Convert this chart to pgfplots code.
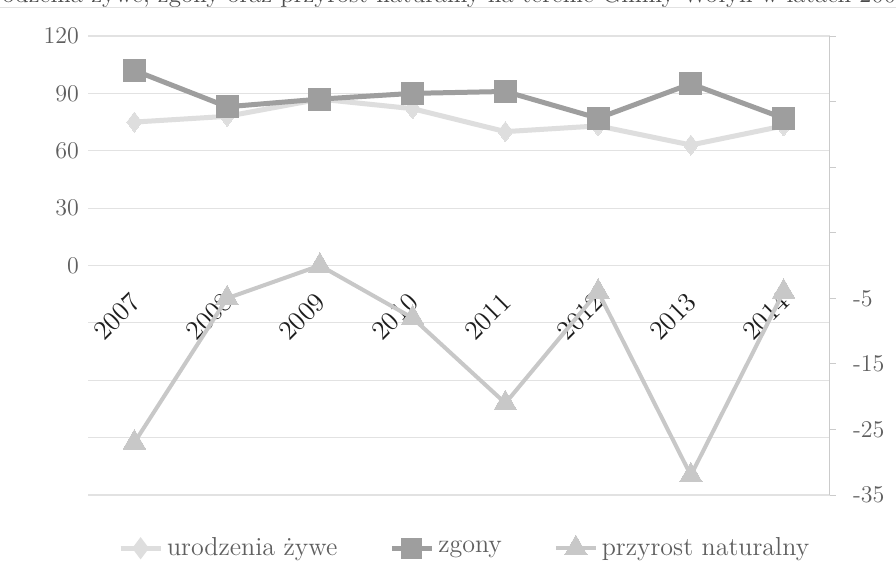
\documentclass[border=0pt]{standalone}
\usepackage{fontspec}
\usepackage{pgfplots}
\pgfplotsset{compat=1.18}
\definecolor{urod}{RGB}{222,222,222}
\definecolor{zgon}{RGB}{158,158,158}
\definecolor{przy}{RGB}{200,200,200}
\definecolor{gridc}{RGB}{226,226,226}
\definecolor{labc}{RGB}{95,95,95}
\definecolor{yearc}{RGB}{30,30,30}
\newcommand{\tf}{\fontsize{12}{14}\selectfont}
\begin{document}
\begin{tikzpicture}
\clip (0,0) rectangle (448pt,289.5pt);
\fill[white] (0,0) rectangle (448pt,289.5pt);
\node[anchor=base west, inner sep=0pt, text=labc!80!black, font=\fontsize{12.5}{14}\selectfont] at (-13pt,288pt)
  {Urodzenia żywe, zgony oraz przyrost naturalny na terenie Gminy Wołyń w latach 2007--2014};
\draw[gridc, line width=0.5pt] (0,285.5pt) -- (448pt,285.5pt);
\begin{axis}[
  at={(44pt,42pt)}, anchor=south west,
  scale only axis, width=371pt, height=229.5pt,
  xmin=-0.5, xmax=7.5, ymin=-120, ymax=120,
  axis line style={draw=none},
  ytick={-120,-90,...,120},
  yticklabels={,,,,0,30,60,90,120},
  ymajorgrids, grid style={gridc, line width=0.6pt},
  major tick length=0pt,
  xtick={0,1,2,3,4,5,6,7},
  xticklabels={2007,2008,2009,2010,2011,2012,2013,2014},
  xticklabel style={font=\fontsize{13.5}{15}\selectfont, text=yearc, yshift=101pt, xshift=3pt, rotate=45, anchor=east},
  yticklabel style={font=\tf, text=labc, xshift=-1pt},
  clip=false,
]
\addplot[urod, line width=2.5pt, line join=round, mark=diamond*, mark size=5pt, mark options={fill=urod, draw=urod, line width=0pt}]
  coordinates {(0,75) (1,78) (2,87) (3,82) (4,70) (5,73) (6,63) (7,73)};
\addplot[zgon, line width=2.5pt, line join=round, mark=square*, mark size=5.5pt, mark options={fill=zgon, draw=zgon, line width=0pt}]
  coordinates {(0,102) (1,83) (2,87) (3,90) (4,91) (5,77) (6,95) (7,77)};
\end{axis}
\begin{axis}[
  at={(44pt,42pt)}, anchor=south west,
  scale only axis, width=371pt, height=229.5pt,
  xmin=-0.5, xmax=7.5, ymin=-35, ymax=35,
  axis x line=none,
  axis y line*=right,
  y axis line style={draw=gridc!90!black, line width=0.5pt},
  ytick={-35,-25,...,35},
  yticklabels={-35,-25,-15,-5,,,,},
  tick align=outside, major tick length=3pt,
  ytick style={draw=gridc!90!black, line width=0.5pt},
  yticklabel style={font=\tf, text=labc, xshift=5pt},
  clip=false,
  legend style={at={(0.509,-0.116)}, anchor=center, legend columns=3, draw=none, fill=none,
    font=\fontsize{13}{15}\selectfont, text=labc,
    /tikz/every even column/.append style={column sep=24pt}},
  legend cell align=left,
  legend image code/.code={\draw[mark repeat=2, mark phase=2, #1] plot coordinates {(0cm,0cm) (0.35cm,0cm) (0.7cm,0cm)};},
]
\addlegendimage{urod, line width=2.5pt, mark=diamond*, mark size=3.5pt, mark options={fill=urod, draw=urod}}
\addlegendentry{urodzenia żywe}
\addlegendimage{zgon, line width=2.5pt, mark=square*, mark size=4pt, mark options={fill=zgon, draw=zgon}}
\addlegendentry{zgony}
\addplot[przy, line width=2pt, line join=round, mark=triangle*, mark size=6.5pt, mark options={fill=przy, draw=przy, line width=0pt}]
  coordinates {(0,-27) (1,-5) (2,0) (3,-8) (4,-21) (5,-4) (6,-32) (7,-4)};
\addlegendentry{przyrost naturalny}
\end{axis}
\end{tikzpicture}
\end{document}
